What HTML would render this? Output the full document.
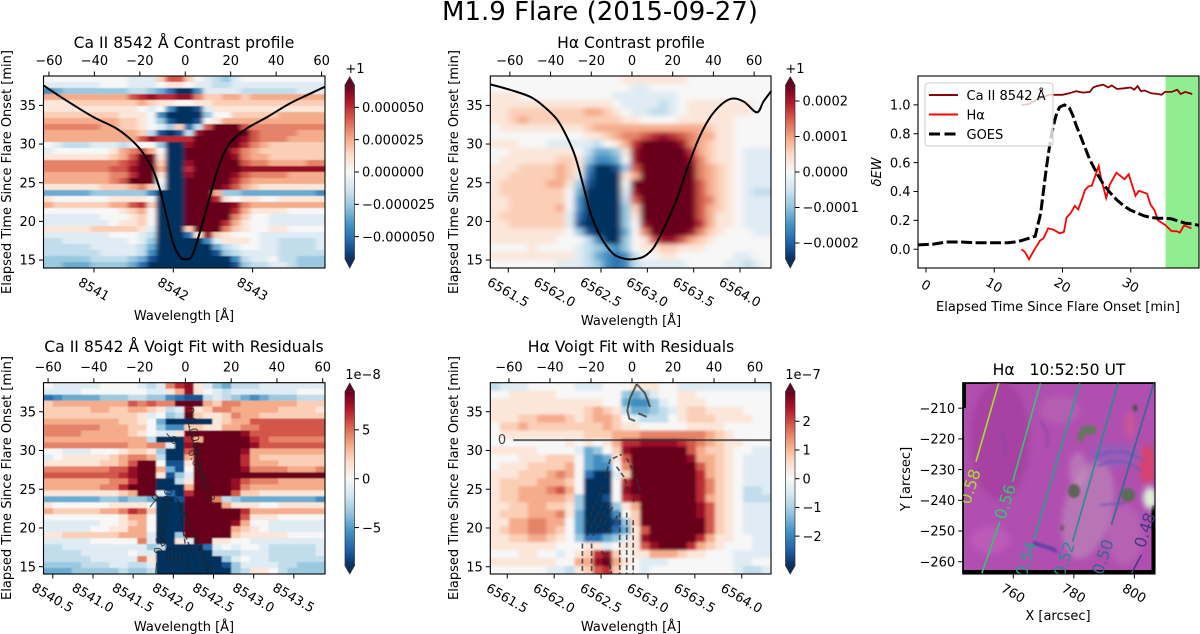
<!DOCTYPE html>
<html lang="en">
<head>
<meta charset="utf-8">
<title>M1.9 Flare (2015-09-27)</title>
<style>
html,body{margin:0;padding:0;background:#fff;}
svg{display:block;font-family:"DejaVu Sans","Liberation Sans",sans-serif;fill:#000;}
.t13{font-size:13px;}
.t15{font-size:15.6px;}
</style>
</head>
<body>
<svg id="chart" xmlns="http://www.w3.org/2000/svg" width="1200" height="634" viewBox="0 0 1200 634">
<defs>
<linearGradient id="rdbu" x1="0" y1="1" x2="0" y2="0">
<stop offset="0" stop-color="#053061"/><stop offset=".1" stop-color="#2166ac"/><stop offset=".2" stop-color="#4393c3"/><stop offset=".3" stop-color="#92c5de"/><stop offset=".4" stop-color="#d1e5f0"/><stop offset=".5" stop-color="#f7f7f7"/><stop offset=".6" stop-color="#fddbc7"/><stop offset=".7" stop-color="#f4a582"/><stop offset=".8" stop-color="#d6604d"/><stop offset=".9" stop-color="#b2182b"/><stop offset="1" stop-color="#67001f"/>
</linearGradient>
<clipPath id="clip-sdo"><rect x="962.7" y="382.7" width="192.3" height="191.3"/></clipPath>
<clipPath id="clip-ew"><rect x="918" y="76" width="281" height="192"/></clipPath>
<clipPath id="clip-ca-contrast"><rect x="43.5" y="76" width="281.5" height="192"/></clipPath>
<clipPath id="clip-ha-contrast"><rect x="490.3" y="76" width="280.7" height="192"/></clipPath>
<clipPath id="clip-ca-voigt"><rect x="43.5" y="382.7" width="281.5" height="191.3"/></clipPath>
<clipPath id="clip-ha-voigt"><rect x="490.3" y="382.7" width="280.7" height="191.3"/></clipPath>
<filter id="blur3" x="-50%" y="-50%" width="200%" height="200%"><feGaussianBlur stdDeviation="3"/></filter>
<filter id="blur1" x="-50%" y="-50%" width="200%" height="200%"><feGaussianBlur stdDeviation="1"/></filter>
<filter id="soft-ca-contrast" x="-5%" y="-5%" width="110%" height="110%"><feGaussianBlur stdDeviation="2.4 0.5"/></filter>
<filter id="soft-ha-contrast" x="-5%" y="-5%" width="110%" height="110%"><feGaussianBlur stdDeviation="3.2 2.2"/></filter>
<filter id="soft-ca-voigt" x="-5%" y="-5%" width="110%" height="110%"><feGaussianBlur stdDeviation="0.7 0.4"/></filter>
<filter id="soft-ha-voigt" x="-5%" y="-5%" width="110%" height="110%"><feGaussianBlur stdDeviation="1.6 1.2"/></filter>
</defs>

<text x="600" y="20" font-size="26" text-anchor="middle">M1.9 Flare (2015-09-27)</text>

<g id="panel-ca-contrast">
  <text class="t15" x="184" y="48" text-anchor="middle">Ca II 8542 Å Contrast profile</text>
  <text class="t13" x="184" y="320" text-anchor="middle">Wavelength [Å]</text>
  <text class="t13" transform="translate(11,172) rotate(-90)" text-anchor="middle">Elapsed Time Since Flare Onset [min]</text>
  <text class="t13" x="355" y="73" text-anchor="middle">+1</text>
</g>
<g id="panel-ha-contrast">
  <text class="t15" x="631" y="48" text-anchor="middle">Hα Contrast profile</text>
  <text class="t13" x="631" y="325" text-anchor="middle">Wavelength [Å]</text>
  <text class="t13" transform="translate(458,172) rotate(-90)" text-anchor="middle">Elapsed Time Since Flare Onset [min]</text>
  <text class="t13" x="795" y="73" text-anchor="middle">+1</text>
</g>
<g id="panel-ca-voigt">
  <text class="t15" x="184" y="352" text-anchor="middle">Ca II 8542 Å Voigt Fit with Residuals</text>
  <text class="t13" x="184" y="631" text-anchor="middle">Wavelength [Å]</text>
  <text class="t13" transform="translate(11,478) rotate(-90)" text-anchor="middle">Elapsed Time Since Flare Onset [min]</text>
  <text class="t13" x="363" y="379" text-anchor="middle">1e−8</text>
</g>
<g id="panel-ha-voigt">
  <text class="t15" x="631" y="352" text-anchor="middle">Hα Voigt Fit with Residuals</text>
  <text class="t13" x="631" y="631" text-anchor="middle">Wavelength [Å]</text>
  <text class="t13" transform="translate(458,478) rotate(-90)" text-anchor="middle">Elapsed Time Since Flare Onset [min]</text>
  <text class="t13" x="803" y="379" text-anchor="middle">1e−7</text>
</g>

<g id="panel-ew">
  <rect x="918" y="76" width="281" height="192" fill="#fff"/>
  <g id="ew-marks" clip-path="url(#clip-ew)"></g>
  <g>
    <rect x="925" y="83" width="128" height="63" rx="3" fill="#fff" fill-opacity=".8" stroke="#ccc" stroke-width="1"/>
    <line x1="929" y1="95" x2="958" y2="95" stroke="#8b0000" stroke-width="2"/>
    <text class="t13" x="966.5" y="100">Ca II 8542 Å</text>
    <line x1="929" y1="114.5" x2="958" y2="114.5" stroke="#f00" stroke-width="2"/>
    <text class="t13" x="966.5" y="119.5">Hα</text>
    <line x1="929" y1="134" x2="958" y2="134" stroke="#000" stroke-width="3" stroke-dasharray="11 4.5"/>
    <text class="t13" x="966.5" y="139">GOES</text>
  </g>
  <text class="t13" x="1058" y="311" text-anchor="middle">Elapsed Time Since Flare Onset [min]</text>
  <text class="t13" font-style="italic" transform="translate(881,172) rotate(-90)" text-anchor="middle">δEW</text>
</g>

<g id="panel-sdo">
  <g clip-path="url(#clip-sdo)">
    <rect x="962.7" y="382.7" width="192.3" height="191.3" fill="#000"/>
    <rect x="966" y="384" width="189" height="186" fill="#b04fb0"/>
    <rect x="1151.5" y="505" width="4" height="70" fill="#000"/>
    <rect x="964" y="408" width="3" height="162" fill="#b050b0"/>
    <g filter="url(#blur3)">
      <ellipse cx="1000" cy="440" rx="30" ry="60" fill="#a5409f" opacity=".8"/>
      <ellipse cx="990" cy="540" rx="20" ry="14" fill="#bf5cba" opacity=".8"/>
      <ellipse cx="1088" cy="510" rx="24" ry="50" fill="#bd8fb8" opacity=".6" transform="rotate(14 1088 510)"/>
      <ellipse cx="1078" cy="470" rx="9" ry="18" fill="#c4a0c0" opacity=".45"/>
      <ellipse cx="1116" cy="455" rx="26" ry="12" fill="#8e60b8" opacity=".7"/>
      <ellipse cx="1125" cy="535" rx="18" ry="30" fill="#b86ab2" opacity=".7"/>
      <ellipse cx="1147" cy="465" rx="8" ry="20" fill="#e2405c" opacity=".8"/>
      <ellipse cx="1130" cy="425" rx="5" ry="14" fill="#d85a88" opacity=".65"/>
      <ellipse cx="1150" cy="498" rx="7" ry="11" fill="#dcf3d8"/>
      <ellipse cx="1060" cy="410" rx="20" ry="14" fill="#b664b4" opacity=".7"/>
    </g>
    <g filter="url(#blur1)">
      <ellipse cx="1089" cy="430" rx="8" ry="5" fill="#667660"/>
      <ellipse cx="1081" cy="436" rx="3.5" ry="6" fill="#667660"/>
      <ellipse cx="1074" cy="491" rx="6" ry="7" fill="#5e6256"/>
      <ellipse cx="1128" cy="495" rx="7" ry="7" fill="#5e6b58"/>
      <ellipse cx="1135" cy="408" rx="2.5" ry="4" fill="#5a4f5a"/>
      <ellipse cx="1062" cy="528" rx="2" ry="3" fill="#6a5a6a"/>
      <path d="M1032 544 L1058 553 L1055 548 L1034 541Z" fill="#5a3fa8"/>
      <path d="M1094 458 C1110 448 1130 450 1145 462 M1098 466 C1115 458 1130 460 1142 472 M1100 505 L1125 503" stroke="#6a58bc" stroke-width="2" fill="none" opacity=".8"/>
      <path d="M1040 420 C1048 430 1050 440 1046 448 M1000 430 C1005 440 1006 446 1005 455" stroke="#7048a8" stroke-width="2" fill="none" opacity=".6"/>
    </g>
    <g id="sdo-contours"></g>
  </g>
  <text class="t15" x="1059" y="375" text-anchor="middle" xml:space="preserve">Hα   10:52:50 UT</text>
  <text class="t13" x="1058" y="620" text-anchor="middle">X [arcsec]</text>
  <text class="t13" transform="translate(910,479) rotate(-90)" text-anchor="middle">Y [arcsec]</text>
</g>
</svg>

<script>
// Heatmap levels: -8 (deep blue) .. 0 (white) .. +8 (deep red). Rows run top (late) to bottom (early).
const caContrastLevels = [
[0,0,0,0,0,0,0,0,0,-1,-1,-1,2,5,5,2,0,-1,-2,-3,-1,0,0,0,0,0,0,0,0,0],
[-1,-1,-1,-1,-1,-1,0,0,0,-1,-1,-1,0,1,1,0,-1,-1,-2,-2,-1,-1,-1,-1,-1,-1,-1,-1,-1,-1],
[-5,-4,-3,-3,-3,-3,-3,-3,-3,-2,-2,-3,-4,-6,-8,-8,-5,-1,-1,-1,-1,-2,-2,-2,-2,-2,-2,-1,-1,-1],
[3,3,3,3,3,3,3,3,3,5,6,7,6,6,7,7,4,2,2,3,3,2,3,3,3,3,3,3,3,3],
[1,1,1,2,2,2,2,2,2,2,3,2,1,1,0,0,1,1,2,2,2,2,2,2,2,2,2,2,2,2],
[1,1,1,1,1,1,1,1,1,1,0,-1,0,-5,-8,-8,-7,-1,1,1,1,1,1,1,1,1,1,1,1,1],
[2,2,2,2,2,2,2,2,1,1,1,0,-5,-8,-8,-8,-8,-3,0,0,2,2,2,2,2,3,3,3,3,3],
[3,3,3,3,3,3,3,3,2,2,1,0,-3,-7,-8,-8,-7,0,1,3,3,3,3,3,3,3,3,3,3,3],
[4,4,4,4,4,4,3,3,2,2,1,0,-1,-3,2,-6,-2,5,8,8,8,5,4,4,4,4,4,4,4,4],
[3,3,3,3,3,3,3,3,3,3,2,-2,-7,-8,-7,-2,7,8,8,8,8,8,5,4,4,4,4,3,3,3],
[3,3,3,3,3,3,3,3,3,3,5,7,6,6,6,6,8,8,8,8,8,7,5,4,4,4,3,3,3,3],
[0,-1,-2,-2,-2,-1,-1,-1,-2,-1,0,0,-3,-8,-8,7,8,8,8,8,8,6,4,3,2,2,2,2,2,2],
[-1,0,0,0,0,0,0,1,3,4,5,3,0,-8,-8,8,8,8,8,8,6,4,3,2,2,2,2,2,2,2],
[1,1,1,1,1,1,1,2,3,5,8,8,1,-8,-8,8,8,8,8,8,7,4,3,3,2,2,2,2,2,2],
[4,4,4,4,4,4,4,4,5,6,8,8,2,-8,-8,7,8,8,8,8,8,5,4,4,3,3,3,3,4,4],
[4,4,4,4,4,4,4,5,5,7,8,8,3,-8,-8,6,8,8,8,8,8,7,7,7,7,7,7,7,7,7],
[3,3,3,3,3,3,3,4,4,6,8,8,1,-8,-8,7,8,8,8,8,7,5,4,4,4,4,3,3,3,3],
[3,3,3,3,3,3,3,4,5,8,8,8,0,-8,-8,8,8,8,8,8,6,4,3,3,3,3,3,3,3,3],
[1,1,1,1,1,1,2,2,2,3,4,2,-1,-8,-8,8,8,8,8,7,5,3,2,1,1,1,1,1,1,1],
[-4,-4,-4,-4,-4,-3,-3,-3,-3,-3,-3,-5,-8,-8,-8,8,8,8,3,-3,-3,-4,-4,-4,-4,-4,-4,-4,-4,-5],
[1,0,0,0,0,0,0,1,1,1,1,0,-8,-8,-8,8,8,8,6,1,0,1,1,0,0,1,1,1,1,1],
[3,2,2,2,2,2,2,3,3,5,6,2,-8,-8,-8,8,8,8,8,8,7,4,3,3,3,3,3,3,3,3],
[0,0,0,0,0,0,0,0,1,2,3,0,-8,-8,-8,8,8,8,8,8,6,3,1,1,1,1,0,0,0,0],
[-1,-1,-1,-1,-1,-1,0,0,0,1,2,0,-8,-8,-8,8,8,8,8,8,4,2,0,0,-1,-1,-1,-1,-1,-1],
[-1,-1,-1,-1,-1,-1,-1,0,1,1,2,0,-8,-8,-8,8,8,8,8,6,3,1,0,0,-1,-1,-1,-1,-1,-1],
[1,1,1,1,1,2,2,2,2,2,1,-1,-8,-8,-8,2,8,8,8,4,2,1,0,0,1,1,0,0,0,0],
[-1,-1,-1,-1,-1,-1,-1,0,0,0,-1,-2,-8,-8,-8,-6,1,7,2,1,0,0,0,-1,-1,-1,-1,-1,-1,-1],
[-2,-2,-1,-1,-1,-1,-1,-1,-1,0,-1,-3,-8,-8,-8,-8,-8,-5,-1,1,1,1,0,-1,-1,-2,-2,-2,-2,-1],
[-2,-2,-2,-2,-2,-1,-1,-1,-1,-1,-2,-4,-8,-8,-8,-8,-8,-8,-4,-2,-1,0,0,-1,-1,-2,-2,-2,-2,-1],
[-2,-2,-2,-2,-2,-2,-1,-1,-1,-1,-2,-5,-8,-8,-8,-8,-8,-8,-7,-3,-2,-1,-1,-1,-1,-2,-2,-2,-2,-2],
[-3,-3,-3,-3,-3,-2,-2,-2,-2,-3,-4,-7,-8,-8,-8,-8,-8,-8,-8,-8,-5,-2,-1,-1,0,-2,-2,-3,-3,-3],
[-3,-3,-4,-4,-4,-3,-3,-3,-3,-4,-6,-8,-8,-8,-8,-8,-8,-8,-8,-8,-7,-3,-2,-2,-1,-1,-2,-3,-3,-3]
];
const haContrastLevels = [
[0,0,0,0,0,0,0,0,0,0,0,0,0,0,1,1,1,1,1,1,1,0,0,0,0,0,0,0,0,0],
[0,0,0,0,0,0,0,0,0,0,0,0,0,0,0,-1,-1,0,0,0,0,0,0,0,0,0,0,0,0,0],
[1,1,1,0,0,0,0,0,0,0,0,0,0,-1,-1,-1,-1,-1,-1,-1,0,0,0,0,0,0,0,0,0,0],
[1,1,1,1,1,1,1,1,1,1,1,1,1,0,-1,-1,-1,-1,-2,-1,0,1,1,1,1,1,1,1,0,0],
[1,1,2,2,2,2,2,2,2,2,3,3,2,1,0,-1,-1,-2,-2,-1,0,1,1,1,1,1,1,1,0,0],
[1,1,2,3,2,2,2,2,2,2,2,2,2,2,1,1,0,0,0,0,1,1,1,1,1,1,0,0,0,0],
[0,1,1,1,1,1,1,1,1,1,2,3,3,3,3,3,3,3,3,3,3,3,3,2,1,1,0,0,0,0],
[0,0,0,0,0,0,0,0,0,0,1,1,2,3,4,4,5,6,7,6,5,4,3,3,1,1,0,0,0,0],
[1,1,1,0,0,0,-1,-1,-1,-1,-1,-2,0,1,3,6,8,8,8,8,7,4,3,2,1,1,0,0,0,0],
[0,0,1,1,1,1,1,1,1,0,-2,-4,-4,-3,1,7,8,8,8,8,8,6,3,2,1,1,0,-1,-1,-1],
[0,1,1,1,1,1,1,2,2,1,-3,-5,-5,-4,0,7,8,8,8,8,8,7,4,2,1,1,0,-1,-1,-1],
[1,1,1,2,2,2,2,3,2,1,-5,-8,-8,-7,-3,5,8,8,8,8,8,8,4,3,2,1,0,-1,-1,-1],
[1,1,2,2,2,2,2,3,2,-1,-6,-8,-8,-8,1,3,8,8,8,8,8,8,4,3,2,1,0,-1,-1,-1],
[1,2,2,2,2,2,3,3,1,-3,-7,-8,-8,-8,0,8,8,8,8,8,8,8,5,3,2,1,0,-1,-1,-1],
[1,2,2,2,2,2,2,2,0,-4,-8,-8,-8,-8,-1,7,8,8,8,8,8,8,5,3,2,1,0,-1,-2,-2],
[1,1,2,2,2,2,2,2,0,-5,-8,-8,-8,-8,-2,5,8,8,8,8,8,8,5,4,2,1,0,-1,-1,-1],
[1,1,2,2,2,2,2,3,0,-5,-8,-8,-8,-8,-3,2,8,8,8,8,8,8,5,3,2,1,0,-1,-1,-1],
[1,2,2,2,2,2,2,2,-1,-6,-8,-8,-8,-8,-3,1,8,8,8,8,8,8,5,3,1,1,0,-1,-1,-1],
[1,1,2,2,2,2,2,2,-1,-7,-8,-8,-8,-8,-3,0,7,8,8,8,8,8,6,3,1,1,0,-1,-1,-1],
[1,1,1,1,1,1,1,1,0,-3,-7,-8,-8,-8,-4,0,4,8,8,8,8,7,4,2,1,0,0,0,-1,-1],
[1,1,1,1,1,1,1,0,0,0,-2,-5,-8,-8,-3,0,1,5,7,7,5,3,2,1,0,0,0,0,0,0],
[0,0,0,0,1,0,0,0,0,-1,-2,-3,-4,-5,-3,0,1,1,2,2,1,1,1,0,0,0,0,0,0,0],
[1,1,1,1,1,1,1,1,1,-1,-2,-4,-5,-6,-5,-2,0,0,1,1,0,0,0,0,0,0,-1,-1,0,0],
[0,0,0,0,0,0,0,-1,-1,-1,-2,-3,-5,-6,-5,-2,-1,-1,-1,-1,-1,0,0,0,0,-1,-1,-2,-1,0]
];
const caVoigtLevels = [
[0,-1,-1,-1,-1,-1,0,0,0,0,-1,-2,-1,4,6,7,1,-1,-3,-4,-2,-2,-2,-1,-1,-1,-1,-1,-1,-1],
[-1,-1,-1,-1,0,0,0,0,0,0,0,-1,-1,1,3,7,1,0,-1,-2,-1,-1,-1,-1,-1,-1,-1,0,0,0],
[-6,-5,-4,-4,-4,-4,-3,-3,-3,-2,-2,-3,-3,-5,-6,-7,-7,-2,-1,-2,-3,-4,-5,-4,-3,-3,-3,-2,-2,-2],
[2,3,3,3,3,3,3,3,3,5,4,5,4,4,8,8,8,3,2,4,4,3,3,3,3,3,3,2,2,2],
[2,2,2,2,2,3,3,2,2,3,3,2,1,-2,-1,7,1,2,4,4,3,3,3,3,3,2,2,2,2,1],
[2,2,2,2,2,2,2,2,2,2,1,-1,0,-3,-2,8,2,1,1,2,4,3,3,2,2,2,2,2,2,2],
[3,3,3,3,3,3,3,3,2,2,1,0,-4,-8,-8,-8,-8,-8,1,2,3,3,5,5,5,5,5,5,5,5],
[4,4,4,4,4,4,3,3,3,2,2,0,-3,-5,-5,2,2,1,1,3,3,4,4,5,5,5,5,5,5,5],
[4,4,4,4,3,3,3,3,3,2,1,0,-1,-1,1,8,8,8,8,8,8,7,5,5,5,5,5,5,5,5],
[3,3,3,3,3,3,3,3,3,3,3,-2,-8,-8,-8,6,3,8,8,8,8,8,6,5,4,4,4,4,4,4],
[4,4,4,4,4,4,4,4,4,3,3,4,4,-1,-8,7,8,8,8,8,8,8,7,5,5,5,5,5,5,5],
[0,0,-1,-1,-1,0,0,0,1,2,2,1,-3,-8,-8,5,8,8,8,8,8,7,3,3,3,3,3,3,3,3],
[-1,0,1,1,1,1,1,2,3,4,4,3,-2,-8,-8,3,8,8,8,8,8,6,3,2,2,2,2,2,2,2],
[1,1,1,1,1,1,2,2,3,5,8,8,0,-7,-7,1,8,8,8,8,8,6,3,3,3,2,2,2,2,2],
[4,4,4,4,4,4,4,5,5,7,8,8,3,-4,-7,0,8,8,8,8,8,7,4,4,4,4,3,3,3,4],
[5,5,5,5,5,5,5,5,6,7,8,8,1,-7,-3,-1,8,8,8,8,8,8,8,8,8,8,8,8,8,8],
[3,3,3,3,3,3,3,4,4,6,8,8,-8,-8,-2,1,8,8,8,8,7,5,4,4,4,3,3,3,3,3],
[3,3,3,3,3,3,4,4,6,8,8,8,-8,-8,-8,3,8,8,8,8,7,4,3,3,3,3,3,3,3,3],
[1,1,1,1,1,1,1,1,2,3,8,8,-1,-6,-8,6,8,8,8,8,5,2,2,1,1,1,1,1,1,1],
[-4,-4,-4,-4,-4,-4,-3,-3,-4,-3,-3,-4,-8,-8,-7,8,8,8,4,-2,-3,-4,-4,-4,-4,-4,-4,-4,-4,-5],
[1,0,0,0,0,0,0,1,1,1,1,0,-8,-8,-8,8,8,8,8,3,1,1,1,0,0,1,1,1,1,1],
[3,2,2,2,2,2,3,3,4,6,5,2,-8,-8,-8,8,8,8,8,8,8,6,3,3,3,3,3,3,3,3],
[0,0,0,0,0,0,0,0,1,3,3,0,-8,-8,-8,8,8,8,8,8,8,5,1,1,1,0,0,0,0,0],
[-1,-1,-1,-1,-1,-1,0,0,1,2,3,0,-8,-8,-8,8,8,8,8,8,7,3,0,0,-1,-1,-1,-1,-1,-1],
[-1,-1,-1,-1,-1,0,0,1,1,3,3,0,-8,-8,-8,8,8,8,8,8,3,2,1,0,-1,-1,-1,-1,-1,-1],
[1,1,2,2,2,2,2,2,3,3,3,-1,-8,-8,-3,8,8,8,8,8,2,1,1,1,1,1,0,0,0,0],
[-1,-1,-1,-1,-1,0,0,0,0,0,4,-1,-8,-8,1,-1,8,8,1,1,0,0,-1,-1,-1,-1,-1,-1,-1,-1],
[-2,-2,-1,-1,-1,-1,-1,-1,-1,-1,-1,-3,-2,-8,-8,-8,-8,-6,-1,0,-1,0,0,-1,-2,-2,-2,-2,-2,-1],
[-2,-2,-2,-2,-1,-1,-1,-1,-1,0,-1,-1,-8,-8,-8,-8,-8,-8,-2,-2,-2,-1,-1,-1,-2,-2,-2,-2,-2,-1],
[-2,-2,-2,-2,-2,-1,-1,-1,-1,-1,4,1,-8,-8,-8,-8,-8,-8,-8,-3,-1,0,-1,-1,-2,-2,-2,-2,-2,-2],
[-3,-3,-3,-3,-2,-2,-2,-1,-1,-2,-2,-1,-8,-8,-8,-8,-8,-8,-8,-7,-3,-1,-1,-1,-1,-2,-2,-3,-3,-3],
[-4,-4,-4,-3,-3,-3,-3,-3,-2,-3,-3,-2,-8,-8,-8,-8,-8,-8,-8,-8,-3,-2,1,1,0,-2,-3,-3,-3,-3]
];
const haVoigtLevels = [
[-2,-1,-1,-1,0,0,0,0,0,-1,-1,-1,0,0,0,1,1,1,0,0,-1,-1,-1,-1,-1,-1,-1,-1,-1,-1],
[0,0,1,1,1,1,1,0,0,0,0,0,0,0,-3,-4,-3,-1,0,0,1,1,0,0,0,0,0,0,0,0],
[1,1,1,1,1,1,1,1,1,1,1,1,0,0,-4,-5,-5,-3,-1,0,1,1,1,0,0,0,0,0,0,0],
[1,1,1,1,1,1,1,1,1,1,2,3,2,1,-2,-4,-4,-3,-2,-1,1,2,2,1,1,1,1,0,0,0],
[1,1,1,2,2,3,3,3,2,1,2,3,3,2,0,-1,-2,-2,-2,0,1,2,2,2,1,1,1,1,0,0],
[0,2,2,3,2,2,2,2,2,2,2,2,3,2,1,1,0,0,0,0,0,1,1,1,1,0,0,0,0,0],
[0,1,1,1,1,1,1,1,1,1,2,2,2,3,3,3,4,4,4,4,4,4,4,3,2,1,0,0,0,0],
[0,0,0,0,0,0,0,0,1,0,1,0,1,3,6,6,7,7,7,7,6,5,4,3,2,1,1,0,0,0],
[1,1,1,1,1,0,0,0,0,-1,-4,-3,0,2,7,8,8,8,8,8,8,5,3,2,2,1,0,0,-1,-1],
[0,0,0,1,1,1,2,2,2,0,-4,-5,-4,1,5,8,8,8,8,8,8,7,3,3,2,1,0,-1,-1,-1],
[0,1,1,1,2,2,2,2,3,0,-4,-5,-5,0,4,8,8,8,8,8,8,8,5,3,2,1,0,-1,-1,-1],
[1,1,1,2,2,2,3,4,3,0,-6,-8,-8,-1,2,8,8,8,8,8,8,8,6,3,2,1,0,-1,-1,-1],
[1,2,2,2,2,3,3,3,2,0,-8,-8,-8,0,6,8,8,8,8,8,8,8,6,4,2,1,0,-1,-1,-1],
[1,2,2,3,3,3,4,5,3,0,-8,-8,-8,0,7,8,8,8,8,8,8,8,6,4,2,1,0,-2,-2,-1],
[1,2,2,3,3,3,3,3,2,-3,-8,-8,-7,0,6,7,8,8,8,8,8,8,6,3,2,1,0,-2,-2,-2],
[1,1,2,2,3,3,2,2,1,-3,-8,-8,-8,-3,1,3,8,8,8,8,8,8,7,5,2,1,0,-1,-1,-1],
[1,2,2,2,3,3,3,4,1,-4,-8,-8,-8,-5,0,2,8,8,8,8,8,8,7,5,2,1,0,-1,-1,-1],
[1,1,3,3,4,4,3,3,0,-4,-8,-8,-8,-7,-3,2,8,8,8,8,8,8,8,5,2,1,0,-1,-1,-1],
[1,2,3,3,4,4,3,2,0,-4,-8,-8,-8,-6,-4,1,5,8,8,8,8,8,8,5,2,1,0,-1,-1,-1],
[1,1,2,2,3,3,2,1,0,-3,-6,-6,-4,-3,-1,1,7,8,8,8,8,8,6,3,1,1,0,0,-1,-1],
[1,1,1,1,1,1,1,0,0,0,1,1,-1,0,1,1,5,7,8,8,8,6,3,2,1,0,0,0,-1,-1],
[0,0,0,1,1,0,0,-1,0,1,2,6,7,2,0,1,1,3,3,3,2,1,1,0,0,0,-1,-1,-1,-1],
[1,1,1,1,1,1,1,0,0,3,3,7,8,3,1,0,-1,-1,-1,0,0,0,0,0,0,0,-1,-1,0,0],
[0,0,0,0,0,0,-1,-1,-2,1,2,5,6,2,0,0,-1,0,0,0,0,0,0,0,0,0,-1,-2,-2,-1]
];

// Line-core trace (Doppler velocity vs elapsed time)
const caCoreVelocity = [-62.5,-52.2,-40.5,-30.2,-22.9,-18.5,-14.1,-11.1,-8.2,-5.3,-2.3,0,2.8,5,8,11.6,15.2,19.6,27,35.8,46,53.4,61.4];
const caCoreTime = [37.6,35.6,33.5,32,30.3,28.8,26.6,24.05,20.6,17.16,15.4,15.1,15.4,17.2,20.2,24.05,27.5,30.1,32,33.45,35.25,36.3,37.4];
const haCoreVelocity = [-69.3,-59.7,-49.9,-43.4,-36.9,-32,-27.9,-23.8,-19.8,-14.9,-9.2,-4.2,0,5.5,10.4,15.3,21.9,26.8,33.3,39.9,48,54.8,61.3,64.6,68.4];
const haCoreTime = [37.7,37,36.1,34.9,33.2,30.95,28.4,24.5,20.6,17.8,15.8,15.2,15.1,15.4,16.5,18.9,22.8,26.6,31,34,35.8,35.5,34.1,35.5,36.85];

// Light curves
const caEwTime = [14,15,16,17,18,19,20,21,22,23,24,24.5,25,26,26.7,27.2,28,29,30,30.5,31,31.5,32,33,34,34.5,35,36,36.8,37.3,38,39];
const caEwValue = [1,1.005,1.03,1.05,1.07,1.07,1.07,1.08,1.095,1.085,1.09,1.12,1.13,1.14,1.12,1.135,1.11,1.115,1.12,1.105,1.13,1.095,1.1,1.08,1.075,1.07,1.09,1.09,1.105,1.075,1.09,1.075];
const haEwTime = [14,14.5,15.1,15.8,16.7,17.2,17.9,18.7,19.6,20.2,20.6,21.2,21.8,22.3,22.8,23.3,23.8,24.3,25.3,25.7,26.4,26.9,27.9,29.1,29.7,30.7,31.2,32.4,32.9,33.5,34,35,36,36.7,37.2,37.8,38.9];
const haEwValue = [0,-0.02,-0.07,-0.01,0.06,0.075,0.145,0.135,0.11,0.12,0.22,0.25,0.3,0.275,0.34,0.41,0.435,0.44,0.577,0.48,0.355,0.445,0.53,0.485,0.52,0.37,0.405,0.385,0.31,0.27,0.2,0.17,0.125,0.125,0.115,0.165,0.145];
const goesTime = [-1.2,1,3,5,7,10,12,13,14,15,16,16.3,16.8,17.2,17.6,18,18.4,18.8,19.2,19.6,20.3,21,21.5,22,22.5,23,24,25,26,27,28,29,30,31,32,33,34,35,36,37,38,39,40];
const goesValue = [0.03,0.035,0.05,0.05,0.045,0.045,0.045,0.05,0.06,0.075,0.09,0.15,0.25,0.4,0.55,0.68,0.8,0.88,0.95,0.985,1,0.98,0.93,0.86,0.8,0.74,0.62,0.53,0.45,0.39,0.34,0.3,0.27,0.25,0.23,0.22,0.215,0.215,0.21,0.195,0.18,0.175,0.165];
const flareSpan = [35.1, 40];

// Tick values and labels
const timeTicks = [15,20,25,30,35];
const velocityTicks = [-60,-40,-20,0,20,40,60];
const velocityLabels = ['−60','−40','−20','0','20','40','60'];
const caCoarseWave = [8541,8542,8543];
const caCoarseLabels = ['8541','8542','8543'];
const caFineWave = [8540.5,8541,8541.5,8542,8542.5,8543,8543.5];
const caFineLabels = ['8540.5','8541.0','8541.5','8542.0','8542.5','8543.0','8543.5'];
const haWave = [6561.5,6562,6562.5,6563,6563.5,6564];
const haWaveLabels = ['6561.5','6562.0','6562.5','6563.0','6563.5','6564.0'];
const caContrastBarTicks = [50,25,0,-25,-50];
const caContrastBarLabels = ['0.000050','0.000025','0.000000','−0.000025','−0.000050'];
const haContrastBarTicks = [2,1,0,-1,-2];
const haContrastBarLabels = ['0.0002','0.0001','0.0000','−0.0001','−0.0002'];
const caVoigtBarTicks = [5,0,-5];
const caVoigtBarLabels = ['5','0','−5'];
const haVoigtBarTicks = [2,1,0,-1,-2];
const haVoigtBarLabels = ['2','1','0','−1','−2'];
const ewXTicks = [0,10,20,30];
const ewXLabels = ['0','10','20','30'];
const ewYTicks = [0,0.2,0.4,0.6,0.8,1];
const ewYLabels = ['0.0','0.2','0.4','0.6','0.8','1.0'];
const sdoXTicks = [760,780,800];
const sdoYTicks = [-210,-220,-230,-240,-250,-260];
const sdoYLabels = ['−210','−220','−230','−240','−250','−260'];

// Contours over the residual panels, as [velocity, time] pairs
const caDashedContours = [
 [[-3.8,23.8],[12.2,14.2]], [[-0.1,22.1],[10,14.2]], [[-0.1,19.1],[6.4,14.2]], [[-3.1,23.4],[2,14.2]],
 [[-8.2,17.4],[-8.2,15.2]], [[-6.6,17.4],[-6.6,15.2]], [[-5,17.4],[-5,15.2]], [[-3.3,17.4],[-3.3,15.2]], [[-1.6,17.4],[-1.6,15.2]]
];
const caSolidContours = [
 [[0.6,34.6],[2,32.4],[5,29.8],[7.9,26]], [[-15.5,22.7],[-12.5,23.8]], [[-8.2,32.2],[-6.4,31.6]], [[-13,14.2],[-12.5,15.5]]
];
const haSolidContours = [
 [[-57.9,31.34],[67.8,31.34]],
 [[2.3,38.57],[-1,36.72],[-2.3,35.2],[-1.3,34.1],[1.5,33.8]],
 [[2.3,38.57],[6.3,37.4],[7.6,36.5],[8.8,35.6]],
 [[3.1,34.8],[7.2,34.35]]
];
const haDashedContours = [
 [[-13.2,26.4],[-10.7,28.8],[-5,29.5]],
 [[-2.6,29],[0.65,27.3],[3.9,25.1],[0.65,23.4]],
 [[-7.5,27.9],[-3.4,26.4],[-1.8,24.7]],
 [[-22,19],[-13,23.7]], [[-19,19],[-11,23.3]], [[-15,19.5],[-9,23]], [[-22,20.5],[-14,25.5]], [[-12,19.6],[-7,21.6]],
 [[-24.2,18],[-24.2,14.1]], [[-19.7,18],[-19.7,14.1]], [[-14.8,17],[-11,15.4],[-10,14.1]], [[-6,22],[-6,14.1]], [[-2.6,22],[-2.6,14.1]], [[0.6,21],[0.6,14.1]]
];

// Mu contours over the context image, [x, y] arcsec pairs
const muContours = [
 [[755.2,-201.8],[747.7,-227.4]],
 [[769,-201.8],[759.8,-233.9]],
 [[755.6,-247],[749.6,-263.8]],
 [[782,-201.8],[766.8,-252.9]],
 [[794.6,-201.8],[779.6,-253.5]],
 [[806.4,-201.8],[792.4,-248]],
 [[802.3,-257.8],[799,-263.8]]
];
const muContourColors = ['#a8dc2c','#35c46f','#35c46f','#1fa58c','#20908f','#2f6c8e','#443a83'];
const muLabels = ['0.58','0.56','0.54','0.52','0.50','0.48'];
const muLabelX = [745.7,757.3,764.2,776.8,789.5,803.4];
const muLabelY = [-235.5,-240.4,-259.1,-259.1,-258.4,-249.7];
const muLabelColors = ['#a8dc2c','#35c46f','#1fa58c','#20908f','#2f6c8e','#443a83'];

const NS = 'http://www.w3.org/2000/svg';
const RDBU = [[5,48,97],[33,102,172],[67,147,195],[146,197,222],[209,229,240],[247,247,247],[253,219,199],[244,165,130],[214,96,77],[178,24,43],[103,0,31]];
const LEVEL_MAX = 8;

function levelColor(level) {
  const f = Math.min(0.9999, Math.max(0, (level / LEVEL_MAX + 1) / 2)) * 10;
  const i = Math.floor(f), u = f - i;
  const c = RDBU[i].map((a, k) => Math.round(a + (RDBU[i + 1][k] - a) * u));
  return 'rgb(' + c.join(',') + ')';
}
function linear(d0, d1, r0, r1) { return v => r0 + (v - d0) * (r1 - r0) / (d1 - d0); }
function add(parent, tag, attrs, text) {
  const node = document.createElementNS(NS, tag);
  for (const k in attrs) node.setAttribute(k, attrs[k]);
  if (text !== undefined) node.textContent = text;
  parent.appendChild(node);
  return node;
}
function pathFrom(pairs, sx, sy) {
  return pairs.map((p, i) => (i ? 'L' : 'M') + sx(p[0]).toFixed(1) + ' ' + sy(p[1]).toFixed(1)).join(' ');
}
function smoothPathFrom(pairs, sx, sy) {
  const pts = pairs.map(p => [sx(p[0]), sy(p[1])]);
  let d = 'M' + pts[0][0].toFixed(1) + ' ' + pts[0][1].toFixed(1);
  for (let i = 0; i < pts.length - 1; i++) {
    const a = pts[Math.max(0, i - 1)], b = pts[i], c = pts[i + 1], e = pts[Math.min(pts.length - 1, i + 2)];
    d += ' C' + (b[0] + (c[0] - a[0]) / 6).toFixed(1) + ' ' + (b[1] + (c[1] - a[1]) / 6).toFixed(1) + ' ' +
         (c[0] - (e[0] - b[0]) / 6).toFixed(1) + ' ' + (c[1] - (e[1] - b[1]) / 6).toFixed(1) + ' ' +
         c[0].toFixed(1) + ' ' + c[1].toFixed(1);
  }
  return d;
}
function zip(a, b) { return a.map((v, i) => [v, b[i]]); }

function drawHeatmap(group, rows, sWave, sTime, wDomain, tDomain, clipId, softId) {
  const outer = add(group, 'g', {'clip-path': 'url(#' + clipId + ')'});
  
  
  const inner = add(outer, 'g', {filter: 'url(#' + softId + ')'});
  const pad = 12;
  const nr = rows.length;
  rows.forEach((row, r) => {
    const nc = row.length;
    const t0 = tDomain[0] + (tDomain[1] - tDomain[0]) * r / nr;
    const t1 = tDomain[0] + (tDomain[1] - tDomain[0]) * (r + 1) / nr;
    row.forEach((level, c) => {
      const w0 = wDomain[0] + (wDomain[1] - wDomain[0]) * c / nc;
      const w1 = wDomain[0] + (wDomain[1] - wDomain[0]) * (c + 1) / nc;
      const x0 = sWave(w0) - (c === 0 ? pad : 0), x1 = sWave(w1) + (c === nc - 1 ? pad : 0);
      const y0 = sTime(t0) - (r === 0 ? pad : 0), y1 = sTime(t1) + (r === nr - 1 ? pad : 0);
      const el = add(inner, 'rect', {x: x0.toFixed(2), y: y0.toFixed(2), width: (x1 - x0 + 0.4).toFixed(2), height: (y1 - y0 + 0.4).toFixed(2), fill: levelColor(level)});
      
      
    });
  });
}
function bottomTicks(group, ticks, labels, s, yBase, labelY, rotate) {
  ticks.forEach((v, i) => {
    const x = s(v);
    const mark = add(group, 'line', {x1: x, x2: x, y1: yBase, y2: yBase + 4.5, stroke: '#000', 'stroke-width': 1});
    
    
    const el = add(group, 'text', {x: x, y: labelY, dy: '.36em', 'text-anchor': 'middle', 'font-size': 13, transform: rotate ? 'rotate(30 ' + x + ' ' + labelY + ')' : ''}, labels[i]);
    
    
  });
}
function topTicks(group, ticks, labels, s, yBase) {
  ticks.forEach((v, i) => {
    const x = s(v);
    const mark = add(group, 'line', {x1: x, x2: x, y1: yBase, y2: yBase - 4.5, stroke: '#000', 'stroke-width': 1});
    
    
    const el = add(group, 'text', {x: x, y: yBase - 11, 'text-anchor': 'middle', 'font-size': 13}, labels[i]);
    
    
  });
}
function leftTicks(group, ticks, labels, s, xBase) {
  ticks.forEach((v, i) => {
    const y = s(v);
    const mark = add(group, 'line', {x1: xBase, x2: xBase - 4.5, y1: y, y2: y, stroke: '#000', 'stroke-width': 1});
    
    
    const el = add(group, 'text', {x: xBase - 7.5, y: y, dy: '.36em', 'text-anchor': 'end', 'font-size': 13}, labels[i]);
    
    
  });
}
function drawFrame(group, x, y, w, h) {
  const el = add(group, 'rect', {x: x, y: y, width: w, height: h, fill: 'none', stroke: '#000', 'stroke-width': 1.1});
  
  
}
function drawColorbar(group, x, top, bottom, tipTop, tipBottom, ticks, labels, s) {
  const w = 9.5, cx = x + w / 2;
  const upper = add(group, 'polygon', {points: x + ',' + top + ' ' + cx + ',' + tipTop + ' ' + (x + w) + ',' + top, fill: '#67001f', stroke: '#333', 'stroke-width': .7});
  
  
  const lower = add(group, 'polygon', {points: x + ',' + bottom + ' ' + cx + ',' + tipBottom + ' ' + (x + w) + ',' + bottom, fill: '#053061', stroke: '#333', 'stroke-width': .7});
  
  
  const bar = add(group, 'rect', {x: x, y: top, width: w, height: bottom - top, fill: 'url(#rdbu)', stroke: '#333', 'stroke-width': .7});
  
  
  ticks.forEach((v, i) => {
    const y = s(v);
    const mark = add(group, 'line', {x1: x + w, x2: x + w + 4.5, y1: y, y2: y, stroke: '#000', 'stroke-width': 1});
    
    
    const el = add(group, 'text', {x: x + w + 7.5, y: y, dy: '.36em', 'font-size': 13}, labels[i]);
    
    
  });
}

/* ---- Ca II contrast ---- */
(function () {
  const g = document.getElementById('panel-ca-contrast');
  const wD = [8540.363, 8543.913], tD = [38.8, 13.97];
  const sW = linear(wD[0], wD[1], 43.5, 325), sT = linear(tD[0], tD[1], 76, 268), sV = linear(-62.4, 61.5, 43.5, 325);
  drawHeatmap(g, caContrastLevels, sW, sT, wD, tD, 'clip-ca-contrast', 'soft-ca-contrast');
  const curve = add(g, 'path', {d: smoothPathFrom(zip(caCoreVelocity, caCoreTime), sV, sT), fill: 'none', stroke: '#000', 'stroke-width': 2, 'stroke-linejoin': 'round'});
  
  
  drawFrame(g, 43.5, 76, 281.5, 192);
  bottomTicks(g, caCoarseWave, caCoarseLabels, sW, 268, 289, true);
  topTicks(g, velocityTicks, velocityLabels, sV, 76);
  leftTicks(g, timeTicks, timeTicks.map(String), sT, 43.5);
  drawColorbar(g, 345, 85, 259, 76.7, 268, caContrastBarTicks, caContrastBarLabels, linear(-67.3, 67.3, 259, 85));
})();

/* ---- Halpha contrast ---- */
(function () {
  const g = document.getElementById('panel-ha-contrast');
  const wD = [6561.306, 6564.334], tD = [38.8, 13.97];
  const sW = linear(wD[0], wD[1], 490.3, 771), sT = linear(tD[0], tD[1], 76, 268), sV = linear(-69.6, 68.3, 490.3, 771);
  drawHeatmap(g, haContrastLevels, sW, sT, wD, tD, 'clip-ha-contrast', 'soft-ha-contrast');
  const curve = add(g, 'path', {d: smoothPathFrom(zip(haCoreVelocity, haCoreTime), sV, sT), fill: 'none', stroke: '#000', 'stroke-width': 2, 'stroke-linejoin': 'round'});
  
  
  drawFrame(g, 490.3, 76, 280.7, 192);
  bottomTicks(g, haWave, haWaveLabels, sW, 268, 292, true);
  topTicks(g, velocityTicks, velocityLabels, sV, 76);
  leftTicks(g, timeTicks, timeTicks.map(String), sT, 490.3);
  drawColorbar(g, 785.5, 85, 259, 76.7, 268, haContrastBarTicks, haContrastBarLabels, linear(-2.45, 2.45, 259, 85));
})();

/* ---- Ca II Voigt ---- */
(function () {
  const g = document.getElementById('panel-ca-voigt');
  const wD = [8540.384, 8543.888], tD = [38.75, 14.06];
  const sW = linear(wD[0], wD[1], 43.5, 325), sT = linear(tD[0], tD[1], 382.7, 574), sV = linear(-62, 61, 43.5, 325);
  drawHeatmap(g, caVoigtLevels, sW, sT, wD, tD, 'clip-ca-voigt', 'soft-ca-voigt');
  const clip = add(g, 'g', {'clip-path': 'url(#clip-ca-voigt)'});
  caDashedContours.forEach(c => {
    const el = add(clip, 'path', {d: pathFrom(c, sV, sT), fill: 'none', stroke: '#222', 'stroke-opacity': .75, 'stroke-width': 1.5, 'stroke-dasharray': '5 2.5'});
    
    
  });
  caSolidContours.forEach(c => {
    const el = add(clip, 'path', {d: pathFrom(c, sV, sT), fill: 'none', stroke: '#222', 'stroke-opacity': .7, 'stroke-width': 1.2});
    
    
  });
  const notes = add(clip, 'g', {'font-size': 11, fill: '#222', 'fill-opacity': .8, 'text-anchor': 'middle'});
  
  
  add(notes, 'text', {transform: 'translate(198,477) rotate(68)'}, '0.00000 3');
  add(notes, 'text', {transform: 'translate(190,432) rotate(80)'}, '0.0.0000');
  add(notes, 'text', {transform: 'translate(167,522) rotate(-80)'}, '0.00000000');
  add(notes, 'text', {transform: 'translate(163,546)'}, '0');
  add(notes, 'text', {transform: 'translate(158,500) rotate(-45)'}, '0');
  add(notes, 'text', {transform: 'translate(174,444)'}, '0');
  drawFrame(g, 43.5, 382.7, 281.5, 191.3);
  bottomTicks(g, caFineWave, caFineLabels, sW, 574, 597.5, true);
  topTicks(g, velocityTicks, velocityLabels, sV, 382.7);
  leftTicks(g, timeTicks, timeTicks.map(String), sT, 43.5);
  drawColorbar(g, 345, 391.7, 565.7, 383, 574, caVoigtBarTicks, caVoigtBarLabels, linear(-8.9, 8.9, 565.7, 391.7));
})();

/* ---- Halpha Voigt ---- */
(function () {
  const g = document.getElementById('panel-ha-voigt');
  const wD = [6561.319, 6564.312], tD = [38.75, 14.06];
  const sW = linear(wD[0], wD[1], 490.3, 771), sT = linear(tD[0], tD[1], 382.7, 574), sV = linear(-69.1, 67.8, 490.3, 771);
  drawHeatmap(g, haVoigtLevels, sW, sT, wD, tD, 'clip-ha-voigt', 'soft-ha-voigt');
  const clip = add(g, 'g', {'clip-path': 'url(#clip-ha-voigt)'});
  haDashedContours.forEach(c => {
    const el = add(clip, 'path', {d: pathFrom(c, sV, sT), fill: 'none', stroke: '#333', 'stroke-opacity': .8, 'stroke-width': 1.7, 'stroke-dasharray': '5 2.5'});
    
    
  });
  haSolidContours.forEach(c => {
    const el = add(clip, 'path', {d: pathFrom(c, sV, sT), fill: 'none', stroke: '#333', 'stroke-opacity': .75, 'stroke-width': 2});
    
    
  });
  const zero = add(clip, 'text', {x: 502, y: 444, 'font-size': 13, 'text-anchor': 'middle', fill: '#444'}, '0');
  
  
  drawFrame(g, 490.3, 382.7, 280.7, 191.3);
  bottomTicks(g, haWave, haWaveLabels, sW, 574, 598, true);
  topTicks(g, velocityTicks, velocityLabels, sV, 382.7);
  leftTicks(g, timeTicks, timeTicks.map(String), sT, 490.3);
  drawColorbar(g, 785.5, 391.7, 565.7, 383, 574, haVoigtBarTicks, haVoigtBarLabels, linear(-3.03, 3.03, 565.7, 391.7));
})();

/* ---- Light curves ---- */
(function () {
  const g = document.getElementById('panel-ew');
  const marks = document.getElementById('ew-marks');
  const sX = linear(-1.17, 40, 918, 1199), sY = linear(-0.13, 1.2, 268, 76);
  const span = add(marks, 'rect', {x: sX(flareSpan[0]), y: 76, width: sX(flareSpan[1]) - sX(flareSpan[0]), height: 192, fill: '#90ee90'});
  
  
  const ca = add(marks, 'path', {d: pathFrom(zip(caEwTime, caEwValue), sX, sY), fill: 'none', stroke: '#8b0000', 'stroke-width': 1.8});
  
  
  const ha = add(marks, 'path', {d: pathFrom(zip(haEwTime, haEwValue), sX, sY), fill: 'none', stroke: '#f00', 'stroke-width': 1.8});
  
  
  const goes = add(marks, 'path', {d: pathFrom(zip(goesTime, goesValue), sX, sY), fill: 'none', stroke: '#000', 'stroke-width': 3, 'stroke-dasharray': '11 3.5'});
  
  
  const axes = document.createElementNS(NS, 'g');
  g.insertBefore(axes, g.children[2]);
  drawFrame(axes, 918, 76, 281, 192);
  bottomTicks(axes, ewXTicks, ewXLabels, sX, 268, 285, true);
  leftTicks(axes, ewYTicks, ewYLabels, sY, 918);
})();

/* ---- Context image overlays ---- */
(function () {
  const g = document.getElementById('panel-sdo');
  const c = document.getElementById('sdo-contours');
  const sX = linear(743.3, 806.8, 962.7, 1155), sY = linear(-201.7, -264, 382.7, 574);
  muContours.forEach((seg, i) => {
    const el = add(c, 'path', {d: pathFrom(seg, sX, sY), fill: 'none', stroke: muContourColors[i], 'stroke-width': 1.6});
    
    
  });
  muLabels.forEach((label, i) => {
    const x = sX(muLabelX[i]), y = sY(muLabelY[i]);
    const el = add(c, 'text', {x: x, y: y, dy: '.36em', 'text-anchor': 'middle', 'font-size': 16, fill: muLabelColors[i], transform: 'rotate(-72 ' + x + ' ' + y + ')'}, label);
    
    
  });
  drawFrame(g, 962.7, 382.7, 192.3, 191.3);
  bottomTicks(g, sdoXTicks, sdoXTicks.map(String), sX, 574, 593, true);
  leftTicks(g, sdoYTicks, sdoYLabels, sY, 962.7);
})();
</script>
</body>
</html>
